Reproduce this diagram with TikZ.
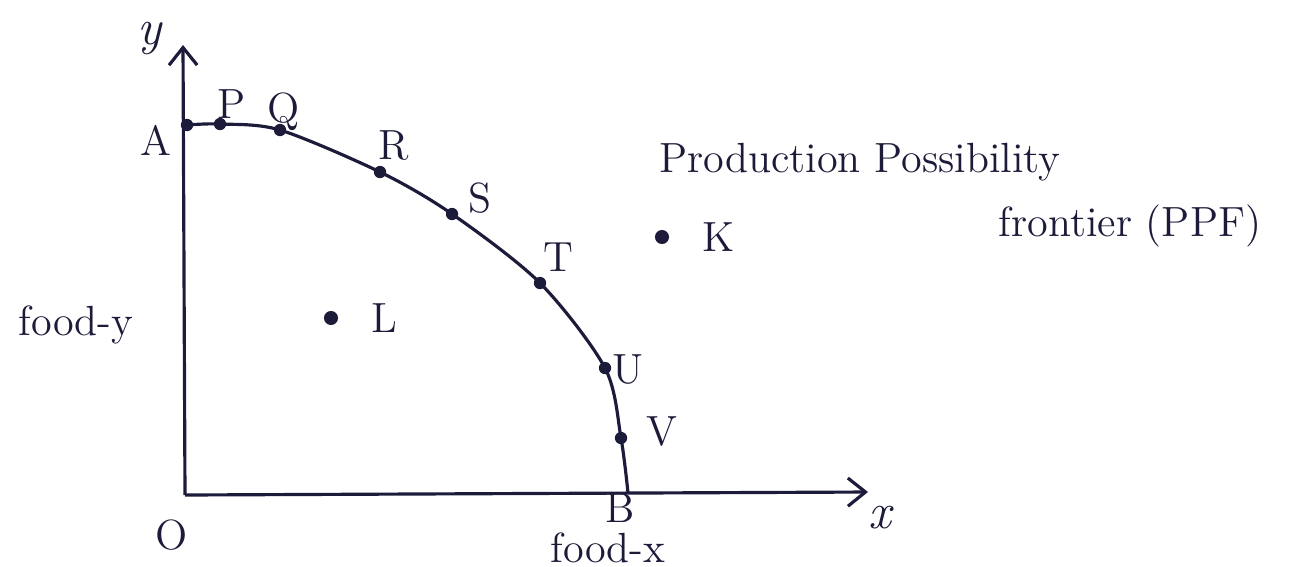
\documentclass[tikz,border=0pt]{standalone}
\usepackage{tikz}
\usetikzlibrary{positioning,arrows.meta}
\definecolor{ink}{HTML}{1C1B3A}

\begin{document}
\begin{tikzpicture}[x=0.01cm, y=-0.01cm,
      axis/.style={draw=ink, line width=0.9pt, -{Straight Barb[length=5pt,width=8pt]}},
      ppf/.style={draw=ink, line width=0.9pt},
      dot/.style={circle, fill=ink, inner sep=0pt, minimum size=4pt},
      lbl/.style={font=\large, text=ink, inner sep=1pt}]
    \useasboundingbox (0,0) rectangle (1307,566);
    % axes
    \coordinate (O) at (185,495);
    \coordinate (ytop) at (183,45);
    \coordinate (xend) at (868,492);
    \draw[axis] (O) -- (ytop);
    \draw[axis] (O) -- (xend);
    % frontier
    \foreach \n/\px/\py in {A/187/125, P/220/124, Q/280/130, R/380/172, S/452/214,
                            T/540/283, U/605/368, V/621/438, B/628/493}
      \coordinate (\n) at (\px,\py);
    \draw[ppf] plot[smooth, tension=0.5] coordinates {(A) (P) (Q) (R) (S) (T) (U) (V) (B)};
    \foreach \n in {A,P,Q,R,S,T,U,V}
      \node[dot, minimum size=3.5pt] at (\n) {};
    % points off the curve
    \node[dot] (ptK) at (662,237) {};
    \node[dot] (ptL) at (331,318) {};
    % labels
    \node[lbl] (labA) at (156,140) {A};
    \node[lbl] (labP) at (232,104) {P};
    \node[lbl] (labQ) at (284,112) {Q};
    \node[lbl] (labR) at (394,146) {R};
    \node[lbl] (labS) at (480,198) {S};
    \node[lbl] (labT) at (558,257) {T};
    \node[lbl] (labU) at (628,370) {U};
    \node[lbl] (labV) at (662,432) {V};
    \node[lbl, right=8pt of ptK] (labK) {K};
    \node[lbl, right=8pt of ptL] (labL) {L};
    \node[lbl] (labO) at (172,535) {O};
    \node[lbl] (labB) at (620,508) {B};
    \node[lbl, font=\Large\itshape] (labx) at (880,518) {x};
    \node[lbl, font=\Large\itshape] (laby) at (150,38) {y};
    \node[lbl] (fy) at (76,325) {food-y};
    \node[lbl] (fx) at (608,548) {food-x};
    \node[lbl] (title1) at (860,162) {Production Possibility};
    \node[lbl] (title2) at (1130,226) {frontier (PPF)};
\end{tikzpicture}
\end{document}
